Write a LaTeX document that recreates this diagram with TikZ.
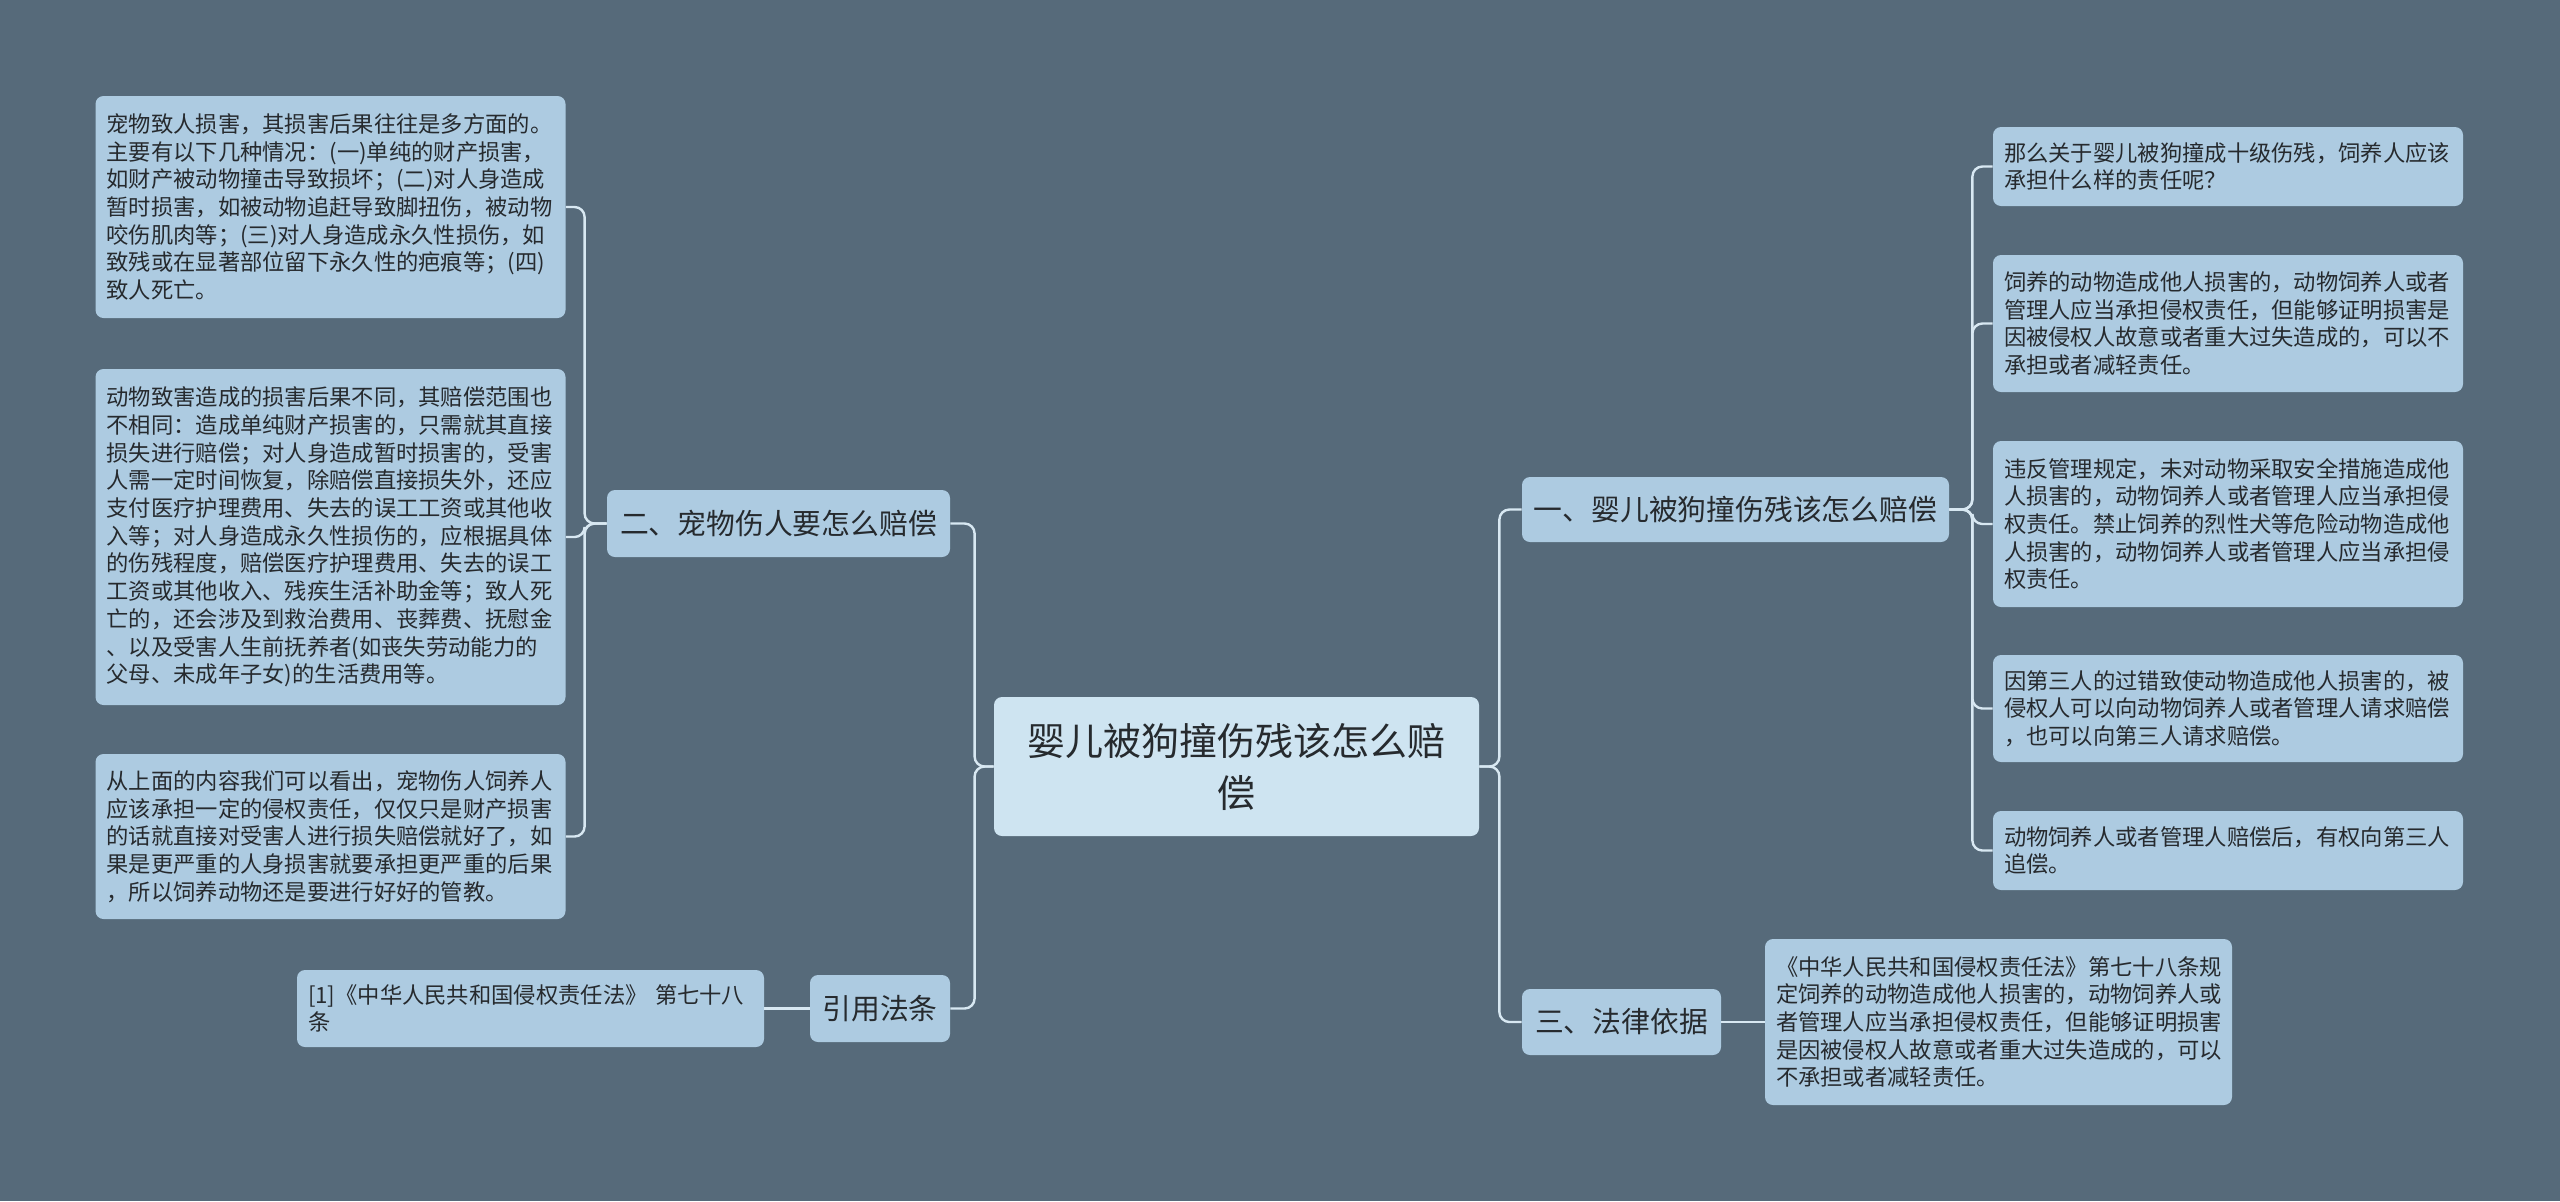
\documentclass[tikz,border=0pt]{standalone}
\usepackage{fontspec}
\setmainfont{Noto Sans CJK SC}
\definecolor{bgc}{HTML}{566A7A}
\definecolor{leafc}{HTML}{ADCBE1}
\definecolor{rootc}{HTML}{CEE4F1}
\definecolor{linec}{HTML}{D8E8F2}
\definecolor{txt}{HTML}{262A2E}
\tikzset{
  base/.style={fill=leafc, rounded corners=4pt, text=txt, inner ysep=0pt, anchor=center},
  leaf/.style={base, align=left, inner xsep=5.5pt, text width=224pt,
    font=\fontsize{11.15pt}{13.85pt}\selectfont},
  branch/.style={base, align=center, inner xsep=0pt,
    font=\fontsize{14.4pt}{18pt}\selectfont},
  rootbox/.style={base, fill=rootc, align=center, inner xsep=0pt,
    font=\fontsize{19pt}{26pt}\selectfont},
  sz/.style 2 args={minimum width=#1*0.5pt, minimum height=#2*0.5pt},
  conn/.style={draw=linec, line width=1.2pt, rounded corners=5pt},
}
\begin{document}
\begin{tikzpicture}[x=0.5pt, y=-0.5pt]
\fill[bgc] (0,0) rectangle (2560,1201);
\useasboundingbox (0,0) rectangle (2560,1201);

% root and branches
\node[rootbox, sz={485}{139}] (root) at (1236.5,766.5) {婴儿被狗撞伤残该怎么赔\\偿};
\node[branch, sz={343}{67}] (b2) at (778.5,523.5) {二、宠物伤人要怎么赔偿};
\node[branch, sz={140}{67}] (yin) at (880,1008.5) {引用法条};
\node[branch, sz={427}{65}] (b1) at (1735.5,509.5) {一、婴儿被狗撞伤残该怎么赔偿};
\node[branch, sz={199}{66}] (b3) at (1621.5,1022) {三、法律依据};

% left leaves
\node[leaf, minimum height=111pt] (l1) at (330.5,207) {宠物致人损害，其损害后果往往是多方面的。\\主要有以下几种情况：(一)单纯的财产损害，\\如财产被动物撞击导致损坏；(二)对人身造成\\暂时损害，如被动物追赶导致脚扭伤，被动物\\咬伤肌肉等；(三)对人身造成永久性损伤，如\\致残或在显著部位留下永久性的疤痕等；(四)\\致人死亡。};
\node[leaf, minimum height=168pt] (l2) at (330.5,537) {动物致害造成的损害后果不同，其赔偿范围也\\不相同：造成单纯财产损害的，只需就其直接\\损失进行赔偿；对人身造成暂时损害的，受害\\人需一定时间恢复，除赔偿直接损失外，还应\\支付医疗护理费用、失去的误工工资或其他收\\入等；对人身造成永久性损伤的，应根据具体\\的伤残程度，赔偿医疗护理费用、失去的误工\\工资或其他收入、残疾生活补助金等；致人死\\亡的，还会涉及到救治费用、丧葬费、抚慰金\\、以及受害人生前抚养者(如丧失劳动能力的\\父母、未成年子女)的生活费用等。};
\node[leaf, minimum height=82.5pt] (l3) at (330.5,836.5) {从上面的内容我们可以看出，宠物伤人饲养人\\应该承担一定的侵权责任，仅仅只是财产损害\\的话就直接对受害人进行损失赔偿就好了，如\\果是更严重的人身损害就要承担更严重的后果\\，所以饲养动物还是要进行好好的管教。};
\node[leaf, text width=222.5pt, minimum height=38.5pt] (cite) at (530.5,1008.5) {[1]《中华人民共和国侵权责任法》 第七十八\\条};

% right leaves
\node[leaf, minimum height=39.5pt] (r1) at (2228,166.5) {那么关于婴儿被狗撞成十级伤残，饲养人应该\\承担什么样的责任呢？};
\node[leaf, minimum height=68.5pt] (r2) at (2228,323.5) {饲养的动物造成他人损害的，动物饲养人或者\\管理人应当承担侵权责任，但能够证明损害是\\因被侵权人故意或者重大过失造成的，可以不\\承担或者减轻责任。};
\node[leaf, minimum height=83pt] (r3) at (2228,524) {违反管理规定，未对动物采取安全措施造成他\\人损害的，动物饲养人或者管理人应当承担侵\\权责任。禁止饲养的烈性犬等危险动物造成他\\人损害的，动物饲养人或者管理人应当承担侵\\权责任。};
\node[leaf, minimum height=53.5pt] (r4) at (2228,708.5) {因第三人的过错致使动物造成他人损害的，被\\侵权人可以向动物饲养人或者管理人请求赔偿\\，也可以向第三人请求赔偿。};
\node[leaf, minimum height=39.5pt] (r5) at (2228,850.5) {动物饲养人或者管理人赔偿后，有权向第三人\\追偿。};
\node[leaf, text width=222.5pt, minimum height=83pt] (law) at (1998.5,1022) {《中华人民共和国侵权责任法》第七十八条规\\定饲养的动物造成他人损害的，动物饲养人或\\者管理人应当承担侵权责任，但能够证明损害\\是因被侵权人故意或者重大过失造成的，可以\\不承担或者减轻责任。};

% connectors
\draw[conn] (root.east) -- ++(20,0) |- (b1.west);
\draw[conn] (root.east) -- ++(20,0) |- (b3.west);
\draw[conn] (root.west) -- ++(-19,0) |- (b2.east);
\draw[conn] (root.west) -- ++(-19,0) |- (yin.east);
\foreach \r in {r1,r2,r3,r4,r5}
  \draw[conn] (b1.east) -- ++(23,0) |- (\r.west);
\foreach \l in {l1,l2,l3}
  \draw[conn] (b2.west) -- ++(-22,0) |- (\l.east);
\draw[conn] (yin.west) -- (cite.east);
\draw[conn] (b3.east) -- (law.west);
\end{tikzpicture}
\end{document}
